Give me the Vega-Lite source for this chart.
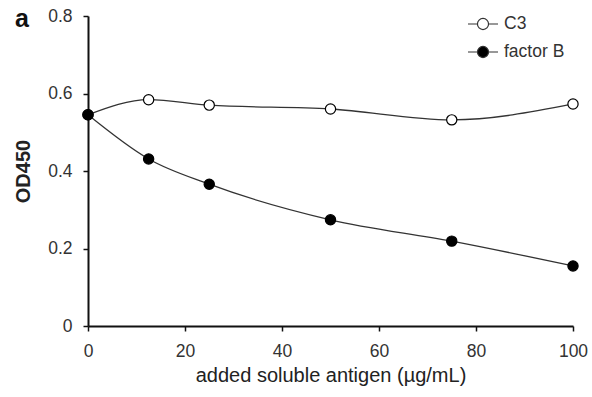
{
  "$schema": "https://vega.github.io/schema/vega-lite/v6.json",
  "autosize": "none",
  "padding": {"left": 88, "top": 16, "right": 19, "bottom": 71},
  "width": 485,
  "height": 310,
  "background": "white",
  "title": {"text": "a", "anchor": "start", "frame": "group", "orient": "top", "dx": -73, "dy": 25, "offset": 0, "fontSize": 25, "fontWeight": "bold", "font": "Liberation Sans", "color": "#111"},
  "config": {
    "view": {"stroke": null},
    "font": "Liberation Sans",
    "axis": {"grid": false, "domainColor": "#111", "domainWidth": 2, "tickColor": "#111", "tickWidth": 1.5, "tickSize": 5, "labelFontSize": 17.5, "labelColor": "#333", "titleFontSize": 20, "titleColor": "#222", "labelFont": "Liberation Sans", "titleFont": "Liberation Sans", "labelFlush": false}
  },
  "data": {"values": [
    {"conc": 0, "od": 0.545, "series": "C3"},
    {"conc": 12.5, "od": 0.584, "series": "C3"},
    {"conc": 25, "od": 0.570, "series": "C3"},
    {"conc": 50, "od": 0.560, "series": "C3"},
    {"conc": 75, "od": 0.532, "series": "C3"},
    {"conc": 100, "od": 0.573, "series": "C3"},
    {"conc": 0, "od": 0.545, "series": "factor B"},
    {"conc": 12.5, "od": 0.431, "series": "factor B"},
    {"conc": 25, "od": 0.366, "series": "factor B"},
    {"conc": 50, "od": 0.274, "series": "factor B"},
    {"conc": 75, "od": 0.219, "series": "factor B"},
    {"conc": 100, "od": 0.155, "series": "factor B"}
  ]},
  "encoding": {
    "x": {"field": "conc", "type": "quantitative", "scale": {"domain": [0, 100], "nice": false}, "axis": {"values": [0, 20, 40, 60, 80, 100], "title": "added soluble antigen (µg/mL)", "titleFontWeight": "normal", "labelPadding": 11, "titlePadding": 6}},
    "y": {"field": "od", "type": "quantitative", "scale": {"domain": [0, 0.8], "nice": false}, "axis": {"values": [0, 0.2, 0.4, 0.6, 0.8], "format": "~g", "title": "OD450", "titleFontWeight": "bold", "labelPadding": 11, "titlePadding": 14}}
  },
  "layer": [
    {"mark": {"type": "line", "interpolate": "monotone", "color": "#333", "strokeWidth": 1.3}, "encoding": {"detail": {"field": "series"}}},
    {"mark": {"type": "point", "filled": false, "size": 105, "stroke": "#000", "strokeWidth": 1.2, "opacity": 1},
     "encoding": {
       "fill": {"field": "series", "type": "nominal", "scale": {"domain": ["C3", "factor B"], "range": ["#ffffff", "#000000"]},
         "legend": {"title": null, "orient": "none", "legendX": 379, "legendY": -8, "symbolType": "M-1,0L-0.37,0M0.37,0L1,0M0.37,0A0.37,0.37 0 1,1 -0.37,0A0.37,0.37 0 1,1 0.37,0Z", "symbolSize": 900, "symbolStrokeColor": "#333", "symbolStrokeWidth": 1.2, "labelFontSize": 17.5, "labelColor": "#333", "labelOffset": 5, "rowPadding": 3, "symbolOpacity": 1}}
     }}
  ]
}
